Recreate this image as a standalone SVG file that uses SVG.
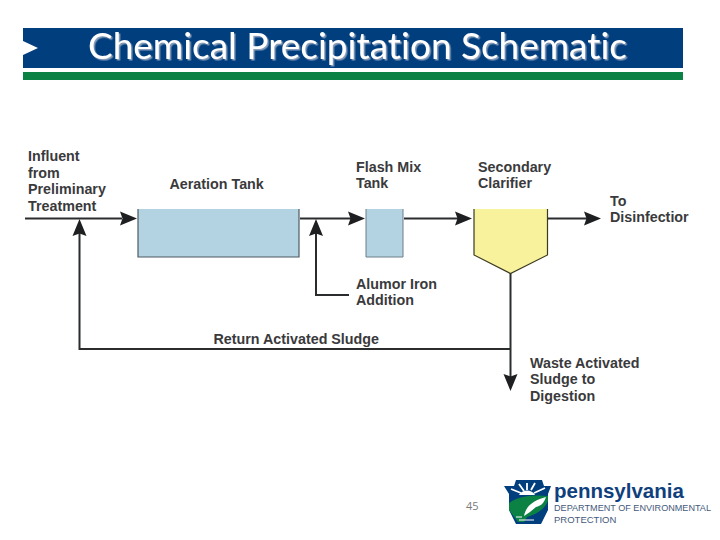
<svg xmlns="http://www.w3.org/2000/svg" width="720" height="540" viewBox="0 0 720 540">
<style>
text{font-family:"Liberation Sans",Arial,sans-serif}
.l{font-size:14.3px;font-weight:bold;fill:#3a3a3c}
.c{fill:none;stroke:#2a2c2e;stroke-width:2}
.h{fill:#1d1f21}
</style>
<defs><filter id="ts" x="-5%" y="-20%" width="110%" height="140%"><feDropShadow dx="1.500" dy="1.500" stdDeviation="0.300" flood-color="#8aa0bc"/></filter></defs>
<rect width="720" height="540" fill="#fff"/>
<g id="header">
<rect x="23" y="28" width="660" height="40" fill="#003e7e"/>
<rect x="23" y="72" width="660" height="8" fill="#0b8244"/>
<path d="M23 41L38 48L23 55Z" fill="#fff"/>
<text x="88" y="59" font-size="36" fill="#fff" style="font-family:Lato,'Open Sans',sans-serif;font-variant-ligatures:none" textLength="539" lengthAdjust="spacingAndGlyphs" filter="url(#ts)">Chemical Precipitation Schematic</text>
</g>
<g id="connectors">
<path class="c" d="M25 218.500H122"/>
<path class="c" d="M300 218.500H351"/>
<path class="c" d="M404 218.500H459"/>
<path class="c" d="M548 218.500H588"/>
<path class="c" d="M349 295H316V232"/>
<path class="c" d="M510.500 273V378"/>
<path class="c" d="M510.500 349H79.500V232"/>
<path class="h" d="M137 218.500L120 211.500L122.500 218.500L120 225.500Z"/>
<path class="h" d="M365 218.500L348 211.500L350.500 218.500L348 225.500Z"/>
<path class="h" d="M472 218.500L455 211.500L457.500 218.500L455 225.500Z"/>
<path class="h" d="M601 218.500L584 211.500L586.500 218.500L584 225.500Z"/>
<path class="h" d="M79.500 219L72.500 236L79.500 233.500L86.500 236Z"/>
<path class="h" d="M316 219L309 236L316 233.500L323 236Z"/>
<path class="h" d="M510.500 391L503.500 374L510.500 376.500L517.500 374Z"/>
</g>
<g id="aeration-tank">
<rect x="138" y="209" width="161" height="48" fill="#b3d3e2"/>
<path d="M138 209V257H299V209" fill="none" stroke="#4d5a62" stroke-width="1.200"/>
<text class="l" x="169.500" y="189">Aeration Tank</text>
</g>
<g id="flash-mix-tank">
<rect x="366" y="209" width="37" height="48" fill="#b3d3e2"/>
<path d="M366 209V257H403V209" fill="none" stroke="#6c7f8a" stroke-width="1"/>
<text class="l"><tspan x="356" y="172">Flash Mix</tspan><tspan x="356" y="188">Tank</tspan></text>
</g>
<g id="secondary-clarifier">
<path d="M474 209H547.500V255L510.500 273.500L474 255Z" fill="#f8f29c"/>
<path d="M474 209V255L510.500 273.500L547.500 255V209" fill="none" stroke="#3b3a22" stroke-width="1.200"/>
<text class="l"><tspan x="478" y="172">Secondary</tspan><tspan x="478" y="188">Clarifier</tspan></text>
</g>
<g id="influent"><text class="l"><tspan x="28" y="161">Influent</tspan><tspan x="28" y="177.500">from</tspan><tspan x="28" y="194">Preliminary</tspan><tspan x="28" y="210.500">Treatment</tspan></text></g>
<g id="disinfection"><text class="l"><tspan x="610" y="206">To</tspan><tspan x="610" y="222">Disinfectior</tspan></text></g>
<g id="addition"><text class="l"><tspan x="356" y="289">Alumor Iron</tspan><tspan x="356" y="305">Addition</tspan></text></g>
<g id="return-sludge"><text class="l" x="213.500" y="344">Return Activated Sludge</text></g>
<g id="waste-sludge"><text class="l"><tspan x="530" y="368">Waste Activated</tspan><tspan x="530" y="384">Sludge to</tspan><tspan x="530" y="401">Digestion</tspan></text></g>
<g id="footer">
<text x="466" y="510" font-size="11" fill="#7a7a7a" style="font-family:'Open Sans',sans-serif">45</text>
<path d="M516 480H542L544 486H551L548 494V510L541 524H516L509 510V494L504 486H514Z" fill="#003e7e"/>
<path d="M527 483V490M519 484L524 491M535 483L531 490M511 489L521 493M545 488L534 493" stroke="#fff" stroke-width="1.800" fill="none"/>
<path d="M519 495C522 489 532 489 535 495Z" fill="#fff"/>
<path d="M509 503C520 495 536 495 548 496V501C545 508 538 514 527 517L524 522H518L509 510Z" fill="#0b8244"/>
<path d="M524 516C526 505 535 500 546 497C544 503 541 506 536 507L530 512Z" fill="#fff"/>
<path d="M519 520H534M516 517H522" stroke="#fff" stroke-width="1" fill="none"/>
<text x="554" y="498" font-size="20.500" font-weight="bold" fill="#0f3f7c">pennsylvania</text>
<text x="554" y="511" font-size="9" fill="#44597a" textLength="157" lengthAdjust="spacingAndGlyphs">DEPARTMENT OF ENVIRONMENTAL</text>
<text x="554" y="523" font-size="9.500" fill="#44597a">PROTECTION</text>
</g>
</svg>
